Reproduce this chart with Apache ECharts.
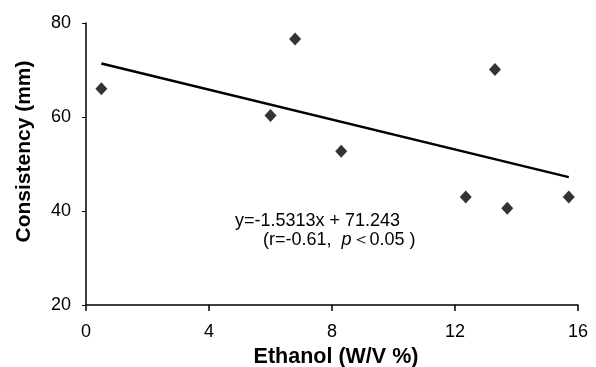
<!DOCTYPE html>
<html>
<head>
<meta charset="utf-8">
<script src="https://cdn.jsdelivr.net/npm/echarts@6/dist/echarts.min.js"></script>
<style>
  html, body { margin: 0; padding: 0; background: #fff; }
  #main { width: 596px; height: 367px; }
</style>
</head>
<body>
<div id="main"></div>
<script>
// ethanol vs consistency
var ethanol = [0.5, 6.0, 6.8, 8.3, 12.35, 13.3, 13.7, 15.7];
var consistency = [66, 60.3, 76.6, 52.7, 43, 70.1, 40.6, 43];
var fitX = [0.5, 15.7];
var fitY = [71.4, 47.2];
var xTicks = [0, 4, 8, 12, 16];
var yTicks = [20, 40, 60, 80];

(function(){
    var myChart = echarts.init(document.getElementById('main'));
    var font = 'Liberation Sans, Arial, sans-serif';

    var points = ethanol.map(function (x, i) { return [x, consistency[i]]; });
    var fit = fitX.map(function (x, i) { return [x, fitY[i]]; });

    option = {
        animation: false,
        grid: { left: 86, right: 18, top: 23, bottom: 62, outerBoundsMode: 'none', containLabel: false },
        xAxis: {
            type: 'value',
            min: xTicks[0],
            max: xTicks[xTicks.length - 1],
            interval: 4,
            name: 'Ethanol (W/V %)',
            nameLocation: 'middle',
            nameGap: 34,
            nameTextStyle: { fontFamily: font, fontSize: 21.5, fontWeight: 'bold', color: '#000', padding: [0, 0, 0, 8] },
            axisLine: { lineStyle: { color: '#000', width: 1.5 } },
            axisTick: { length: 6, lineStyle: { color: '#000', width: 1.5 } },
            axisLabel: { fontFamily: font, fontSize: 18, color: '#000', margin: 18 },
            splitLine: { show: false }
        },
        yAxis: {
            type: 'value',
            min: yTicks[0],
            max: yTicks[yTicks.length - 1],
            interval: 20,
            name: 'Consistency (mm)',
            nameLocation: 'middle',
            nameGap: 51,
            nameTextStyle: { fontFamily: font, fontSize: 21, fontWeight: 'bold', color: '#000', padding: [0, 0, 0, 25] },
            axisLine: { show: true, lineStyle: { color: '#000', width: 1.5 } },
            axisTick: { show: true, length: 4, lineStyle: { color: '#000', width: 1 } },
            axisLabel: { fontFamily: font, fontSize: 18, color: '#000', margin: 15 },
            splitLine: { show: false }
        },
        graphic: [
            {
                type: 'text',
                left: 235,
                top: 212,
                style: {
                    text: 'y=-1.5313x + 71.243',
                    font: '18px ' + font,
                    fill: '#000'
                }
            },
            {
                type: 'text',
                left: 263,
                top: 231,
                style: {
                    text: '(r=-0.61,  {i|p}＜0.05 )',
                    font: '18px ' + font,
                    fill: '#000',
                    rich: {
                        i: { fontStyle: 'italic', fontSize: 18, fontFamily: font, fill: '#000' }
                    }
                }
            }
        ],
        series: [
            {
                type: 'line',
                data: fit,
                symbol: 'none',
                lineStyle: { color: '#000', width: 2.5 },
                z: 2
            },
            {
                type: 'scatter',
                data: points,
                symbol: 'diamond',
                symbolSize: [12, 13],
                itemStyle: { color: '#000' },
                z: 3
            }
        ]
    };

    myChart.setOption(option);
})();
</script>
</body>
</html>
